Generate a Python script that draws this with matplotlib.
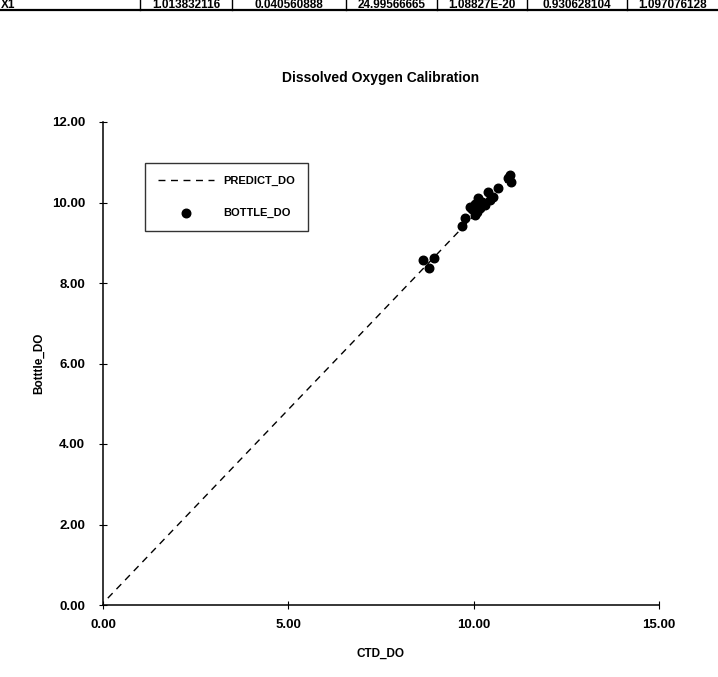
import numpy as np
import matplotlib
matplotlib.use("Agg")
import matplotlib.pyplot as plt
from matplotlib.lines import Line2D

plt.rcParams['font.family'] = ['Liberation Sans', 'DejaVu Sans']

# cut-off row of the regression table above the chart
table_row = ["X1", "1.013832116", "0.040560888", "24.99566665",
             "1.08827E-20", "0.930628104", "1.097076128"]

# bottle vs ctd oxygen
ctd_do = [8.64, 8.93, 8.80, 9.68, 9.77, 9.90, 10.03, 10.12, 10.22, 10.08,
          10.03, 10.17, 10.30, 10.44, 10.39, 10.53, 10.66, 10.98, 10.93, 11.02,
          9.95, 10.10, 10.25]
bottle_do = [8.57, 8.63, 8.38, 9.42, 9.61, 9.90, 9.96, 10.10, 10.02, 9.77,
             9.69, 9.86, 9.94, 10.06, 10.27, 10.14, 10.35, 10.68, 10.60, 10.52,
             9.85, 9.95, 10.00]

# regression line
predict_x = [0.13, 11.02]
predict_y = [0.17, 10.65]

W, H = 718, 677
fig = plt.figure(figsize=(W / 100, H / 100), dpi=100)

# table remnants (the row is cut by the top edge, like in the scan)
col_edges = [0, 140, 232, 346, 437, 527, 627, 718]
for i, t in enumerate(table_row):
    if i == 0:
        fig.text(1 / W, 1 - 8 / H, t, ha='left', va='baseline', fontsize=8.5, fontweight='bold')
    else:
        cx = (col_edges[i] + col_edges[i + 1]) / 2
        fig.text(cx / W, 1 - 8 / H, t, ha='center', va='baseline', fontsize=8.5, fontweight='bold')
for xe in col_edges[1:-1]:
    fig.add_artist(Line2D([xe / W, xe / W], [1, 1 - 10 / H], color='black', lw=1.0))
fig.add_artist(Line2D([0, 1], [1 - 10 / H, 1 - 10 / H], color='black', lw=1.6))

ax = fig.add_axes([103 / W, 72 / H, (659 - 103) / W, (605 - 122) / H])

ax.plot(predict_x, predict_y, color='black', lw=1.0, ls=(0, (5, 4)), label='PREDICT_DO')
ax.scatter(ctd_do, bottle_do, s=38, color='black', zorder=3, label='BOTTLE_DO')

ax.set_xlim(0, 15)
ax.set_ylim(0, 12)
ax.set_xticks([0, 5, 10, 15])
ax.set_yticks([0, 2, 4, 6, 8, 10, 12])
ax.xaxis.set_major_formatter(matplotlib.ticker.FormatStrFormatter('%.2f'))
ax.yaxis.set_major_formatter(matplotlib.ticker.FormatStrFormatter('%.2f'))
ax.tick_params(direction='inout', length=6, width=0.8, labelsize=9.5)
ax.tick_params(axis='x', pad=7)
ax.tick_params(axis='y', pad=10)
for lab in ax.get_xticklabels() + ax.get_yticklabels():
    lab.set_fontweight('bold')

for s in ['top', 'right']:
    ax.spines[s].set_visible(False)
for s in ['left', 'bottom']:
    ax.spines[s].set_linewidth(1.1)

ax.set_title('Dissolved Oxygen Calibration', fontsize=10, fontweight='bold', pad=29)
ax.set_xlabel('CTD_DO', fontsize=8.5, fontweight='bold', labelpad=12)
ax.set_ylabel('Botttle_DO', fontsize=8.5, fontweight='bold', labelpad=5)

leg = ax.legend(loc='upper left', bbox_to_anchor=((145 - 103) / (659 - 103), 1 - (163 - 122) / (605 - 122)),
                frameon=True, fancybox=False, edgecolor='black',
                prop={'size': 8, 'weight': 'bold'},
                handlelength=5, borderpad=1.2, labelspacing=1.9, handletextpad=0.8,
                borderaxespad=0)
leg.get_frame().set_linewidth(1.0)
# widen the frame a bit to the right, like the original box
fig.canvas.draw()
bb = leg.get_frame().get_bbox()
leg.get_frame().set_width(307 - 145)

fig.savefig('out.png', dpi=100)
